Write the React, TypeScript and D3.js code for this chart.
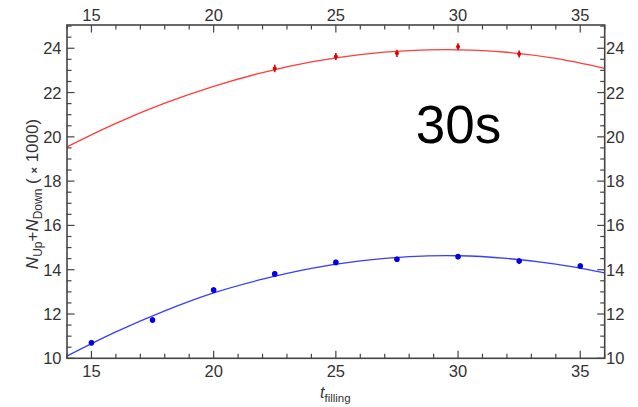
import React from "react";
import * as d3 from "d3";

// ---- data ----
const redT = [22.5, 25, 27.5, 30, 32.5];
const redN = [23.09, 23.63, 23.77, 24.07, 23.74];
const redErr = [0.17, 0.16, 0.16, 0.16, 0.16];

const blueT = [15, 17.5, 20, 22.5, 25, 27.5, 30, 32.5, 35];
const blueN = [10.7, 11.73, 13.08, 13.81, 14.33, 14.47, 14.59, 14.39, 14.17];
const blueErr = [0.12, 0.12, 0.12, 0.12, 0.12, 0.12, 0.12, 0.12, 0.12];

const fitT = [14, 16, 18, 20, 22, 24, 26, 28, 30, 32, 34, 36];
const redFit = [19.55, 20.61, 21.52, 22.28, 22.9, 23.38, 23.71, 23.89, 23.93, 23.82, 23.54, 23.09];
const blueFit = [10.1, 11.19, 12.14, 12.95, 13.57, 14.06, 14.4, 14.59, 14.63, 14.51, 14.25, 13.86];

const xTicks = [15, 20, 25, 30, 35];
const yTicks = [10, 12, 14, 16, 18, 20, 22, 24];

const L = 67, R = 604.7, T = 25, B = 358.3;
const x = d3.scaleLinear().domain([14, 36]).range([L, R]);
const y = d3.scaleLinear().domain([10, 25.05]).range([B, T]);

const xMinor = d3.range(14, 36.001, 1);
const yMinor = d3.range(10, 25.001, 0.5);

const FONT = "'Liberation Sans', Arial, sans-serif";
const AX = "#444";
const TXT = "#333";

export default function App() {
  const line = d3
    .line<[number, number]>()
    .x((d) => x(d[0]))
    .y((d) => y(d[1]))
    .curve(d3.curveCatmullRom.alpha(0.5));
  const redPath = line(fitT.map((t, i) => [t, redFit[i]]))!;
  const bluePath = line(fitT.map((t, i) => [t, blueFit[i]]))!;
  const isMajorX = (v: number) => xTicks.some((t) => Math.abs(t - v) < 1e-6);
  const isMajorY = (v: number) => yTicks.some((t) => Math.abs(t - v) < 1e-6);

  return (
    <svg
      width={638}
      height={407}
      style={{ position: "absolute", left: 0, top: 0, background: "#fff" }}
      fontFamily={FONT}
    >
      <rect x={0} y={0} width={638} height={407} fill="#fff" />
      {/* curves */}
      <path d={redPath} fill="none" stroke="#ff3b3b" strokeWidth={1.3} />
      <path d={bluePath} fill="none" stroke="#3b3bff" strokeWidth={1.3} />

      {/* red points */}
      {redT.map((t, i) => (
        <g key={"r" + i}>
          <line
            x1={x(t)}
            x2={x(t)}
            y1={y(redN[i] - redErr[i])}
            y2={y(redN[i] + redErr[i])}
            stroke="#e00000"
            strokeWidth={1.6}
          />
          <circle cx={x(t)} cy={y(redN[i])} r={2} fill="#e00000" />
        </g>
      ))}
      {/* blue points */}
      {blueT.map((t, i) => (
        <g key={"b" + i}>
          <line
            x1={x(t)}
            x2={x(t)}
            y1={y(blueN[i] - blueErr[i])}
            y2={y(blueN[i] + blueErr[i])}
            stroke="#0000e0"
            strokeWidth={1.8}
          />
          <circle cx={x(t)} cy={y(blueN[i])} r={2.8} fill="#0000e8" />
        </g>
      ))}

      {/* frame */}
      <rect x={L} y={T} width={R - L} height={B - T} fill="none" stroke={AX} strokeWidth={1.6} />

      {/* x ticks top and bottom */}
      {xMinor.map((v) => {
        const len = isMajorX(v) ? 7.5 : 4.5;
        const px = x(v);
        return (
          <g key={"xt" + v} stroke={AX} strokeWidth={1.2}>
            <line x1={px} x2={px} y1={B} y2={B - len} />
            <line x1={px} x2={px} y1={T} y2={T + len} />
          </g>
        );
      })}
      {/* y ticks left and right */}
      {yMinor.map((v) => {
        const len = isMajorY(v) ? 7.5 : 4.5;
        const py = y(v);
        return (
          <g key={"yt" + v} stroke={AX} strokeWidth={1.2}>
            <line x1={L} x2={L + len} y1={py} y2={py} />
            <line x1={R} x2={R - len} y1={py} y2={py} />
          </g>
        );
      })}

      {/* tick labels */}
      {xTicks.map((v) => (
        <g key={"xl" + v} fill={TXT} fontSize={16.5} textAnchor="middle">
          <text x={x(v)} y={376.8}>{v}</text>
          <text x={x(v)} y={20.5}>{v}</text>
        </g>
      ))}
      {yTicks.map((v) => (
        <g key={"yl" + v} fill={TXT} fontSize={16.5}>
          <text x={61.5} y={y(v) + 6} textAnchor="end">{v}</text>
          <text x={606} y={y(v) + 6} textAnchor="start">{v}</text>
        </g>
      ))}

      {/* x label */}
      <text x={320} y={398} fill={TXT} fontSize={16}>
        <tspan fontStyle="italic">t</tspan>
        <tspan fontSize={11.5} dy={4}>filling</tspan>
      </text>

      {/* y label */}
      <text
        transform={`translate(38,194) rotate(-90)`}
        textAnchor="middle"
        fill={TXT}
        fontSize={17}
      >
        <tspan fontStyle="italic">N</tspan>
        <tspan fontSize={12} dy={4}>Up</tspan>
        <tspan dy={-4}>+</tspan>
        <tspan fontStyle="italic">N</tspan>
        <tspan fontSize={12} dy={4}>Down</tspan>
        <tspan dy={-4}> ( </tspan>
        <tspan fontSize={11} fontWeight="bold">×</tspan>
        <tspan> 1000)</tspan>
      </text>

      {/* annotation */}
      <text x={458.5} y={142.7} textAnchor="middle" fontSize={53} fill="#000">
        30s
      </text>
    </svg>
  );
}
